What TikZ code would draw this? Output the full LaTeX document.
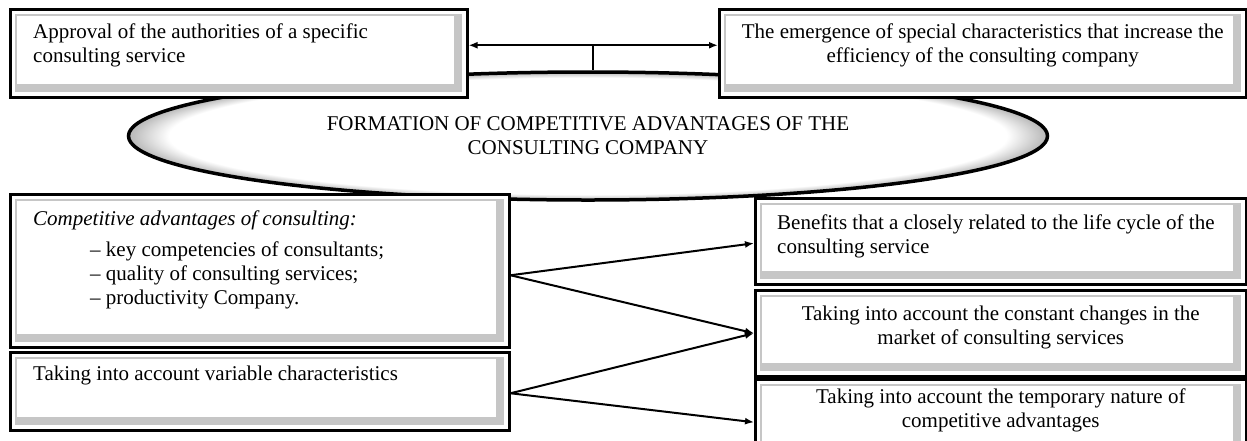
\documentclass[tikz,border=0pt]{standalone}
\usepackage{fontspec}
\setmainfont{Liberation Serif}
\usetikzlibrary{shapes.geometric,arrows.meta,positioning}
\pgfdeclareradialshading{rim}{\pgfpoint{0bp}{0bp}}{color(0bp)=(white); color(22.8bp)=(white); color(24.7bp)=(gray!50); color(25bp)=(gray!55); color(50bp)=(gray!55)}
\begin{document}
\begin{tikzpicture}[x=1pt,y=-1pt,
    bevel/.style={draw, line width=2.5pt, fill=white, rectangle, inner sep=0pt, anchor=north west,
      path picture={
        \fill[gray!45] ([shift={(5pt,-5pt)}]path picture bounding box.north west) rectangle ([shift={(-5pt,5pt)}]path picture bounding box.south east);
        \fill[white] ([shift={(6.5pt,-6.5pt)}]path picture bounding box.north west) rectangle ([shift={(-13pt,13pt)}]path picture bounding box.south east);
      }},
    txt/.style={inner sep=0pt, font=\fontsize{21}{24}\selectfont},
    link/.style={line width=2pt, -{Latex[length=9pt,width=7pt]}}]
  \useasboundingbox (0,0) rectangle (1247,440);
  \clip (0,0) rectangle (1247,440);
  % central ellipse
  \node[ellipse, draw, line width=3.5pt, shade, shading=rim, minimum width=919, minimum height=128,
    inner sep=0pt, align=center, txt] (formation) at (588,136)
    {FORMATION OF COMPETITIVE ADVANTAGES OF THE\\CONSULTING COMPANY};
  % boxes
  \node[bevel, minimum width=457, minimum height=88] (approval) at (9,8) {};
  \node[bevel, minimum width=527, minimum height=88] (emergence) at (718,8) {};
  \node[bevel, minimum width=499, minimum height=153] (advantages) at (9,193) {};
  \node[bevel, minimum width=499, minimum height=78] (variable) at (9,351) {};
  \node[bevel, minimum width=491, minimum height=86] (lifecycle) at (754,197) {};
  \node[bevel, minimum width=491, minimum height=86] (changes) at (754,289) {};
  \node[bevel, minimum width=491, minimum height=86] (temporary) at (754,378) {};
  % texts
  \node[txt, align=left, below right=16pt and 24pt of approval.north west] (approvaltext)
    {Approval of the authorities of a specific\\consulting service};
  \node[txt, align=center, below=16pt of emergence.north] (emergencetext)
    {The emergence of special characteristics that increase the\\efficiency of the consulting company};
  \node[txt, align=left, below right=18pt and 24pt of advantages.north west] (advantagestext)
    {\textit{Competitive advantages of consulting:}\\[7pt]
     \hspace*{57pt}– key competencies of consultants;\\
     \hspace*{57pt}– quality of consulting services;\\
     \hspace*{57pt}– productivity Company.};
  \node[txt, align=left, below right=15pt and 24pt of variable.north west] (variabletext)
    {Taking into account variable characteristics};
  \node[txt, align=left, below right=18pt and 23pt of lifecycle.north west] (lifecycletext)
    {Benefits that a closely related to the life cycle of the\\consulting service};
  \node[txt, align=center, below=17pt of changes.north] (changestext)
    {Taking into account the constant changes in the\\market of consulting services};
  \node[txt, align=center, below=11pt of temporary.north] (temporarytext)
    {Taking into account the temporary nature of\\competitive advantages};
  % connectors
  \draw[line width=2pt, {Latex[length=9pt,width=7pt]}-{Latex[length=9pt,width=7pt]}]
    ([yshift=8pt]approval.east) -- coordinate (mid) ([yshift=8pt]emergence.west);
  \draw[line width=2pt] (mid) -- (mid |- formation.north);
  \draw[link] ([yshift=-4.5pt]advantages.east) -- ([yshift=-2pt]lifecycle.west);
  \draw[link] ([yshift=-4.5pt]advantages.east) -- (changes.west);
  \draw[link] ([yshift=-2pt]variable.east) -- (changes.west);
  \draw[link] ([yshift=-2pt]variable.east) -- (temporary.west);
\end{tikzpicture}
\end{document}
